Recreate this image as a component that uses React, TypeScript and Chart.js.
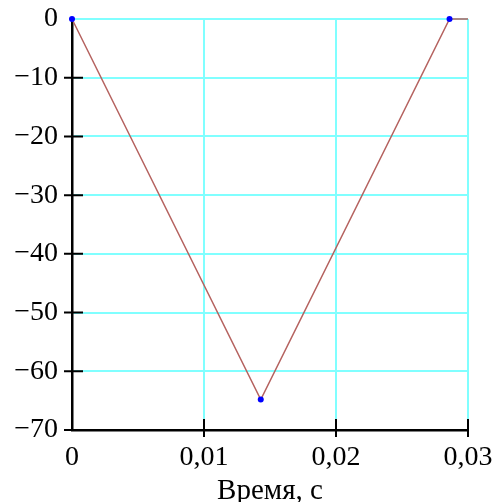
import React, { useEffect, useRef } from "react";
import { Chart, registerables } from "chart.js";

Chart.register(...registerables);

const times = [0, 0.0143, 0.0286, 0.03];
const values = [0, -64.8, 0, 0];
const pointSizes = [3, 3, 3, 0];
const xTickValues = [0, 0.01, 0.02, 0.03];
const yTickValues = [0, -10, -20, -30, -40, -50, -60, -70];
const xTitle = "Время, с";

const FONT = "'Liberation Serif', 'Times New Roman', serif";

const crossTicks = {
  id: "crossTicks",
  afterDraw(chart: any) {
    const { ctx, scales } = chart;
    const x = scales.x;
    const y = scales.y;
    ctx.save();
    ctx.strokeStyle = "#000";
    ctx.lineWidth = 2;
    ctx.beginPath();
    xTickValues.forEach((v) => {
      if (v === 0) return;
      const px = x.getPixelForValue(v);
      ctx.moveTo(px, y.bottom - 11);
      ctx.lineTo(px, y.bottom + 7);
    });
    yTickValues.forEach((v) => {
      if (v === 0) return;
      const py = y.getPixelForValue(v);
      ctx.moveTo(x.left - 8, py);
      ctx.lineTo(x.left + 11, py);
    });
    ctx.stroke();
    ctx.restore();
  },
};

export default function App() {
  const ref = useRef<HTMLCanvasElement | null>(null);
  useEffect(() => {
    document.body.style.margin = "0";
    const chart = new Chart(ref.current as HTMLCanvasElement, {
      type: "line",
      data: {
        datasets: [
          {
            data: times.map((t, i) => ({ x: t, y: values[i] })),
            borderColor: "#b5625f",
            borderWidth: 1.5,
            pointRadius: pointSizes,
            pointBackgroundColor: "#0000ff",
            pointBorderColor: "#0000ff",
            pointBorderWidth: 0,
            clip: false as any,
            tension: 0,
          },
        ],
      },
      options: {
        animation: false,
        responsive: false,
        layout: { padding: { top: 19, right: 28, left: 0, bottom: 0 } },
        plugins: { legend: { display: false }, tooltip: { enabled: false } },
        scales: {
          x: {
            type: "linear",
            min: 0,
            max: 0.03,
            afterFit: (s: any) => {
              s.height = 72;
              s.paddingLeft = 0;
              s.paddingRight = 0;
            },
            afterBuildTicks: (s: any) => {
              s.ticks = xTickValues.map((v) => ({ value: v }));
            },
            ticks: {
              color: "#000",
              padding: 11,
              maxRotation: 0,
              font: { family: FONT, size: 28 },
              callback: (v: any) =>
                Number(Number(v).toFixed(2)).toString().replace(".", ","),
            },
            grid: {
              color: (c: any) => (c.tick && c.tick.value === 0 ? "rgba(0,0,0,0)" : "#80ffff"),
              lineWidth: 2,
              drawTicks: false,
            },
            border: { color: "#000", width: 2.5 },
            title: {
              display: true,
              text: xTitle,
              color: "#000",
              font: { family: FONT, size: 29 },
              padding: { top: 0, bottom: -7 },
            },
          },
          y: {
            type: "linear",
            min: -70,
            max: 0,
            afterFit: (s: any) => {
              s.width = 72;
              s.paddingTop = 0;
              s.paddingBottom = 0;
            },
            afterBuildTicks: (s: any) => {
              s.ticks = yTickValues.slice().reverse().map((v) => ({ value: v }));
            },
            ticks: {
              color: "#000",
              padding: 14,
              font: { family: FONT, size: 28 },
              callback: (v: any) => String(v).replace("-", "\u2212"),
            },
            grid: {
              color: (c: any) => (c.tick && c.tick.value === -70 ? "rgba(0,0,0,0)" : "#80ffff"),
              lineWidth: 2,
              drawTicks: false,
            },
            border: { color: "#000", width: 2.5 },
          },
        },
      },
      plugins: [crossTicks],
    });
    return () => chart.destroy();
  }, []);
  return (
    <div style={{ width: 496, height: 502 }}>
      <canvas ref={ref} width={496} height={502} style={{ display: "block" }} />
    </div>
  );
}
